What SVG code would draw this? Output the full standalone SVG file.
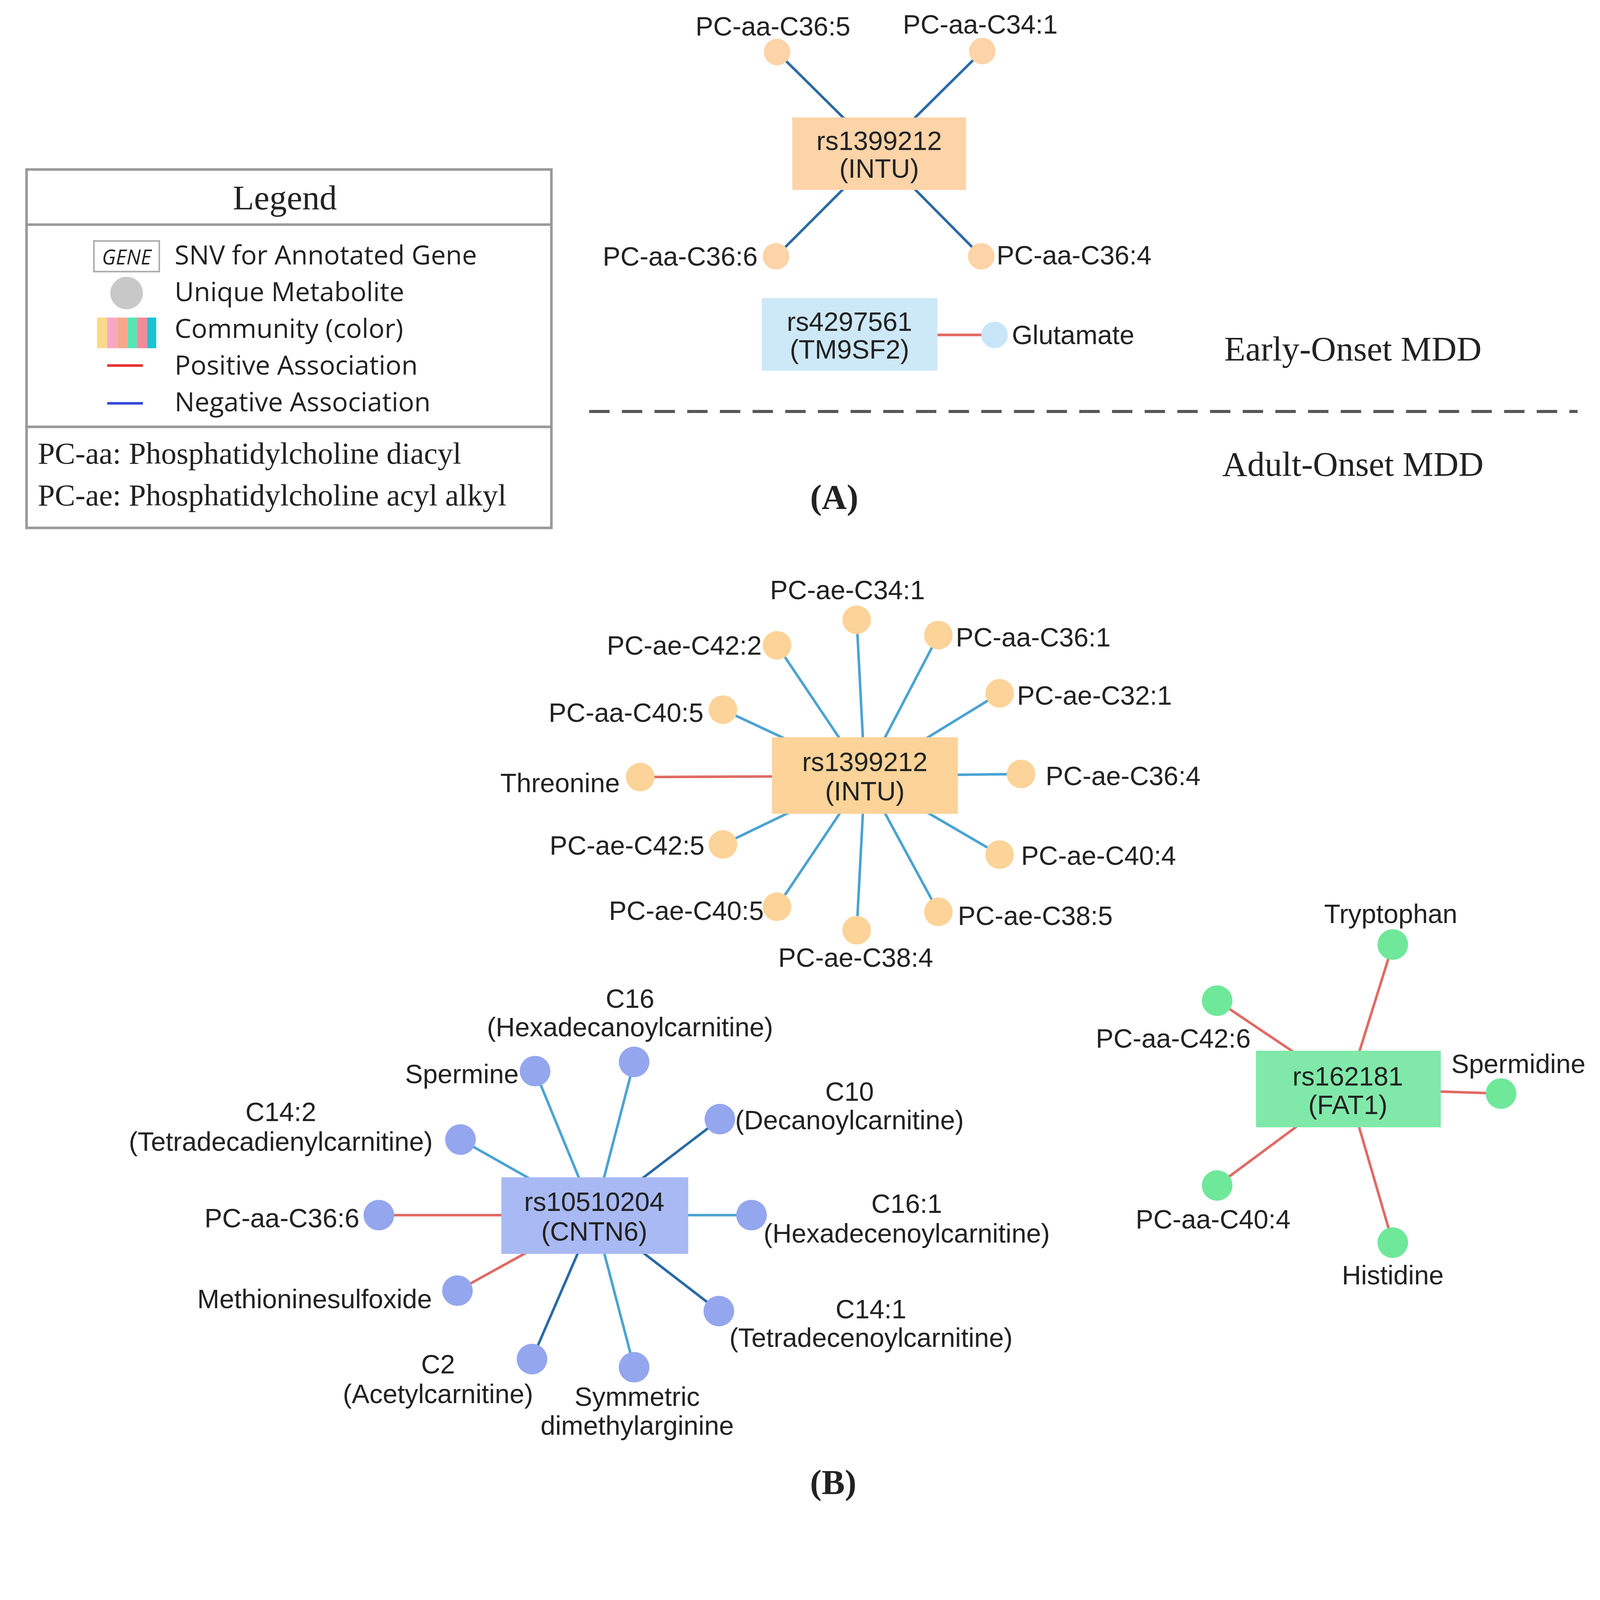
<svg xmlns="http://www.w3.org/2000/svg" width="4408" height="4157" viewBox="0 0 4408 4157">
<style>
text{font-family:"Liberation Sans",Arial,sans-serif;font-size:26px;fill:#222}
.s{font-family:"Liberation Serif","Times New Roman",serif;font-size:34px}
.lg{font-family:"Open Sans","Noto Sans",sans-serif;font-size:26px}
.m{text-anchor:middle}.e{text-anchor:end}
.nb{stroke:#2a6aa6;stroke-width:2.5}.lb{stroke:#4ba3d2;stroke-width:2.5}.rd{stroke:#e06a64;stroke-width:2.5}
</style>
<rect width="4408" height="4157" fill="#fff"/>
<g transform="scale(2.614,2.614)">
<g id="legend">
<rect x="26" y="166" width="514" height="351" fill="#fff" stroke="#999" stroke-width="2.5"/>
<line x1="26" y1="220" x2="540" y2="220" stroke="#999" stroke-width="2.5"/>
<line x1="26" y1="418" x2="540" y2="418" stroke="#999" stroke-width="2.5"/>
<text class="s m" x="279" y="205">Legend</text>
<rect x="92" y="236" width="64" height="30" fill="#fff" stroke="#aaa" stroke-width="1.5"/>
<text class="lg m" x="124" y="259" style="font-style:italic;font-size:20px">GENE</text>
<circle cx="124" cy="287" r="16" fill="#c8c8c8"/>
<rect x="95" y="311" width="10" height="30" fill="#f9d98a"/><rect x="105" y="311" width="10" height="30" fill="#f7a9c4"/><rect x="115" y="311" width="10" height="30" fill="#f5a98a"/><rect x="125" y="311" width="9" height="30" fill="#54e6b6"/><rect x="134" y="311" width="10" height="30" fill="#f48b9b"/><rect x="144" y="311" width="9" height="30" fill="#18c4d2"/>
<line x1="105" y1="358" x2="140" y2="358" stroke="#e83030" stroke-width="2.5"/>
<line x1="105" y1="395" x2="140" y2="395" stroke="#3048d8" stroke-width="2.5"/>
<text class="lg" x="171" y="259">SNV for Annotated Gene</text>
<text class="lg" x="171" y="295">Unique Metabolite</text>
<text class="lg" x="171" y="331">Community (color)</text>
<text class="lg" x="171" y="367">Positive Association</text>
<text class="lg" x="171" y="403">Negative Association</text>
<text class="s" x="37" y="454" style="font-size:30px">PC-aa: Phosphatidylcholine diacyl</text>
<text class="s" x="37" y="495" style="font-size:30px">PC-ae: Phosphatidylcholine acyl alkyl</text>
</g>
<g id="connectors">
<line class="nb" x1="861" y1="150" x2="761" y2="51"/>
<line class="nb" x1="861" y1="150" x2="962" y2="50"/>
<line class="nb" x1="861" y1="150" x2="760" y2="251"/>
<line class="nb" x1="861" y1="150" x2="961" y2="251"/>
<line class="rd" x1="918" y1="328" x2="962" y2="328"/>
<line class="lb" x1="847" y1="760" x2="839" y2="607"/>
<line class="lb" x1="847" y1="760" x2="919" y2="622"/>
<line class="lb" x1="847" y1="760" x2="761" y2="632"/>
<line class="lb" x1="847" y1="760" x2="979" y2="679"/>
<line class="lb" x1="847" y1="760" x2="708" y2="695"/>
<line class="lb" x1="847" y1="760" x2="1000" y2="758"/>
<line class="rd" x1="847" y1="760" x2="627" y2="761"/>
<line class="lb" x1="847" y1="760" x2="708" y2="827"/>
<line class="lb" x1="847" y1="760" x2="979" y2="837"/>
<line class="lb" x1="847" y1="760" x2="761" y2="888"/>
<line class="lb" x1="847" y1="760" x2="919" y2="893"/>
<line class="lb" x1="847" y1="760" x2="839" y2="911"/>
<line class="lb" x1="582" y1="1190" x2="621" y2="1040"/>
<line class="lb" x1="582" y1="1190" x2="524" y2="1049"/>
<line class="nb" x1="582" y1="1190" x2="705" y2="1096"/>
<line class="lb" x1="582" y1="1190" x2="451" y2="1116"/>
<line class="rd" x1="582" y1="1190" x2="371" y2="1190"/>
<line class="lb" x1="582" y1="1190" x2="736" y2="1190"/>
<line class="rd" x1="582" y1="1190" x2="448" y2="1264"/>
<line class="nb" x1="582" y1="1190" x2="704" y2="1284"/>
<line class="nb" x1="582" y1="1190" x2="521" y2="1331"/>
<line class="lb" x1="582" y1="1190" x2="621" y2="1339"/>
<line class="rd" x1="1320" y1="1066" x2="1364" y2="925"/>
<line class="rd" x1="1320" y1="1066" x2="1192" y2="980"/>
<line class="rd" x1="1320" y1="1066" x2="1470" y2="1071"/>
<line class="rd" x1="1320" y1="1066" x2="1192" y2="1161"/>
<line class="rd" x1="1320" y1="1066" x2="1364" y2="1217"/>
</g>
<g id="panelA" fill="#fdd3a8">
<g id="intuA"><rect x="776" y="115" width="170" height="71"/><text class="m" x="861" y="147">rs1399212</text><text class="m" x="861" y="174">(INTU)</text></g>
<g id="a1"><circle cx="761" cy="51" r="13"/><text class="m" x="757" y="35">PC-aa-C36:5</text></g>
<g id="a2"><circle cx="962" cy="50" r="13"/><text class="m" x="960" y="33">PC-aa-C34:1</text></g>
<g id="a3"><circle cx="760" cy="251" r="13"/><text class="e" x="742" y="260">PC-aa-C36:6</text></g>
<g id="a4"><circle cx="961" cy="251" r="13"/><text x="976" y="259">PC-aa-C36:4</text></g>
<g id="tm9"><rect x="746" y="292" width="172" height="71" fill="#cde8f7"/><text class="m" x="832" y="324">rs4297561</text><text class="m" x="832" y="351">(TM9SF2)</text></g>
<g id="glu"><circle cx="974" cy="328" r="13" fill="#c8e6f8"/><text x="991" y="337">Glutamate</text></g>
</g>
<g id="labels">
<text class="s m" x="1325" y="353">Early-Onset MDD</text>
<line x1="577" y1="403" x2="1545" y2="403" stroke="#555" stroke-width="3" stroke-dasharray="20 12"/>
<text class="s m" x="1325" y="466">Adult-Onset MDD</text>
<text class="s m" x="817" y="498" font-weight="bold">(A)</text>
<text class="s m" x="816" y="1463" font-weight="bold">(B)</text>
</g>
<g id="intuB" fill="#fcd398">
<rect x="756" y="722" width="182" height="75"/><text class="m" x="847" y="755">rs1399212</text><text class="m" x="847" y="784">(INTU)</text>
<circle cx="839" cy="607" r="14"/><text class="m" x="830" y="587">PC-ae-C34:1</text>
<circle cx="919" cy="622" r="14"/><text x="936" y="633">PC-aa-C36:1</text>
<circle cx="761" cy="632" r="14"/><text class="e" x="746" y="641">PC-ae-C42:2</text>
<circle cx="979" cy="679" r="14"/><text x="996" y="690">PC-ae-C32:1</text>
<circle cx="708" cy="695" r="14"/><text class="e" x="689" y="707">PC-aa-C40:5</text>
<circle cx="1000" cy="758" r="14"/><text x="1024" y="769">PC-ae-C36:4</text>
<circle cx="627" cy="761" r="14"/><text class="e" x="607" y="776">Threonine</text>
<circle cx="708" cy="827" r="14"/><text class="e" x="690" y="837">PC-ae-C42:5</text>
<circle cx="979" cy="837" r="14"/><text x="1000" y="847">PC-ae-C40:4</text>
<circle cx="761" cy="888" r="14"/><text class="e" x="748" y="901">PC-ae-C40:5</text>
<circle cx="919" cy="893" r="14"/><text x="938" y="906">PC-ae-C38:5</text>
<circle cx="839" cy="911" r="14"/><text class="m" x="838" y="947">PC-ae-C38:4</text>
</g>
<g id="cntn6" fill="#94a6ee">
<rect x="491" y="1153" width="183" height="75" fill="#a9b9f3"/><text class="m" x="582" y="1186">rs10510204</text><text class="m" x="582" y="1215">(CNTN6)</text>
<circle cx="621" cy="1040" r="15"/><text class="m" x="617" y="987">C16</text><text class="m" x="617" y="1015">(Hexadecanoylcarnitine)</text>
<circle cx="524" cy="1049" r="15"/><text class="e" x="508" y="1061">Spermine</text>
<circle cx="705" cy="1096" r="15"/><text class="m" x="832" y="1078">C10</text><text x="720" y="1106">(Decanoylcarnitine)</text>
<circle cx="451" cy="1116" r="15"/><text class="m" x="275" y="1098">C14:2</text><text class="m" x="275" y="1127">(Tetradecadienylcarnitine)</text>
<circle cx="371" cy="1190" r="15"/><text class="e" x="352" y="1202">PC-aa-C36:6</text>
<circle cx="736" cy="1190" r="15"/><text class="m" x="888" y="1188">C16:1</text><text class="m" x="888" y="1217">(Hexadecenoylcarnitine)</text>
<circle cx="448" cy="1264" r="15"/><text class="e" x="423" y="1281">Methioninesulfoxide</text>
<circle cx="704" cy="1284" r="15"/><text class="m" x="853" y="1291">C14:1</text><text class="m" x="853" y="1319">(Tetradecenoylcarnitine)</text>
<circle cx="521" cy="1331" r="15"/><text class="m" x="429" y="1345">C2</text><text class="m" x="429" y="1374">(Acetylcarnitine)</text>
<circle cx="621" cy="1339" r="15"/><text class="m" x="624" y="1377">Symmetric</text><text class="m" x="624" y="1405">dimethylarginine</text>
</g>
<g id="fat1" fill="#6fe89a">
<rect x="1230" y="1029" width="181" height="75" fill="#80e9a9"/><text class="m" x="1320" y="1063">rs162181</text><text class="m" x="1320" y="1091">(FAT1)</text>
<circle cx="1364" cy="925" r="15"/><text class="m" x="1362" y="904">Tryptophan</text>
<circle cx="1192" cy="980" r="15"/><text class="m" x="1149" y="1026">PC-aa-C42:6</text>
<circle cx="1470" cy="1071" r="15"/><text class="m" x="1487" y="1051">Spermidine</text>
<circle cx="1192" cy="1161" r="15"/><text class="m" x="1188" y="1203">PC-aa-C40:4</text>
<circle cx="1364" cy="1217" r="15"/><text class="m" x="1364" y="1258">Histidine</text>
</g>
</g>
</svg>
